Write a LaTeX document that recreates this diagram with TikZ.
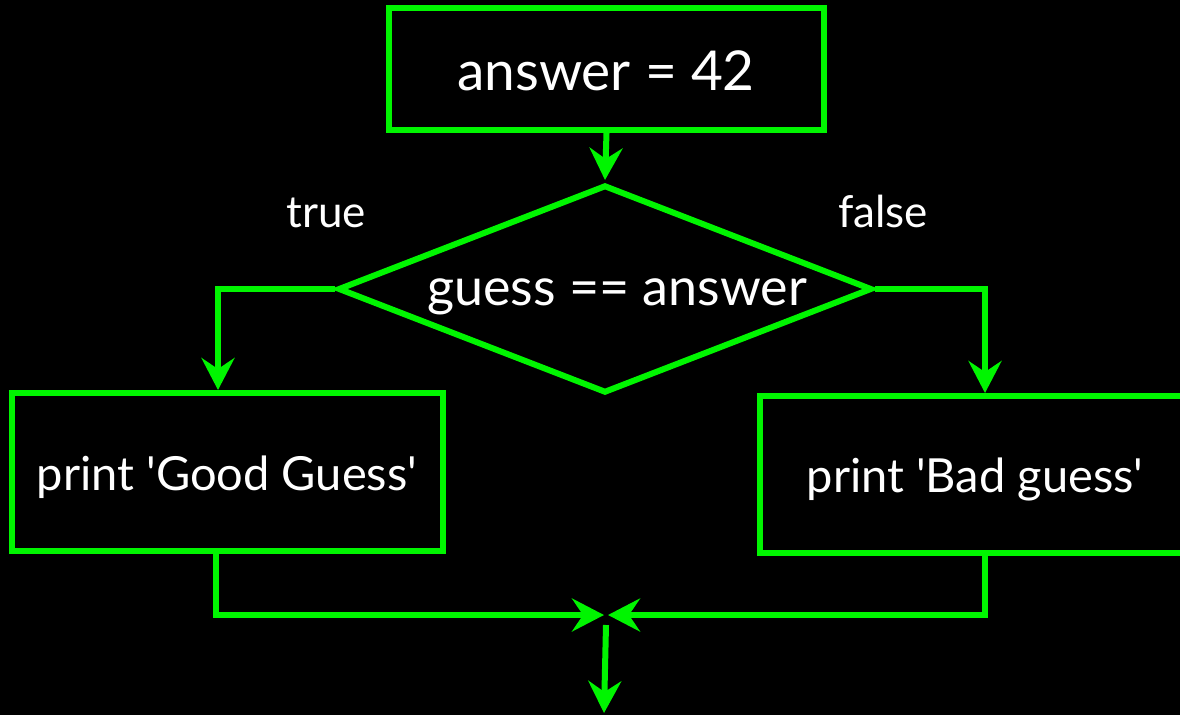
\documentclass[tikz,border=0pt]{standalone}
\usepackage{fontspec}
\setmainfont{Lato}
\usetikzlibrary{arrows.meta,shapes.geometric}
\definecolor{fgreen}{RGB}{0,245,0}
\begin{document}
\begin{tikzpicture}[x=1pt,y=-1pt,
  box/.style={draw=fgreen,line width=6pt,rectangle,inner sep=0pt},
  arr/.style={draw=fgreen,line width=6pt,-{Stealth[length=32pt,width=33pt,inset=11pt]}},
  txt/.style={text=white,inner sep=0pt,anchor=base}]
\fill[black] (0,0) rectangle (1180,715);
\useasboundingbox (0,0) rectangle (1180,715);
\node[box,minimum width=435pt,minimum height=122pt] (top) at (606.5,69) {};
\node[txt,font=\fontsize{55}{66}\selectfont] (tt) at (606,90) {answer = 42};
\node[draw=fgreen,line width=6pt,diamond,minimum width=534pt,minimum height=208pt,inner sep=0pt] (d) at (605,289) {};
\node[txt,font=\fontsize{52}{62}\selectfont] (dt) at (617,305) {guess == answer};
\node[box,minimum width=431pt,minimum height=158pt] (gl) at (227.5,472) {};
\node[txt,font=\fontsize{47}{56}\selectfont] (glt) at (227,490) {print \textquotesingle Good Guess\textquotesingle};
\node[box,minimum width=426pt,minimum height=157pt] (gb) at (973,474.5) {};
\node[txt,font=\fontsize{47}{56}\selectfont] (gbt) at (975,492) {print \textquotesingle Bad guess\textquotesingle};
\node[txt,font=\fontsize{44}{53}\selectfont] (tl) at (326,227) {true};
\node[txt,font=\fontsize{44}{53}\selectfont] (fl) at (883,227) {false};
\coordinate (m) at (606,615);
\coordinate (e) at (604,713);
\draw[arr] (top.south) -- ([yshift=2]d.north);
\draw[arr] (d.west) -| ([xshift=-9.5]gl.north);
\draw[arr] (d.east) -| ([xshift=12]gb.north);
\draw[arr] ([xshift=-12]gl.south) |- ([xshift=-2]m);
\draw[arr] ([xshift=12]gb.south) |- ([xshift=2]m);
\draw[arr] ([yshift=-10]m) -- (e);
\end{tikzpicture}
\end{document}
